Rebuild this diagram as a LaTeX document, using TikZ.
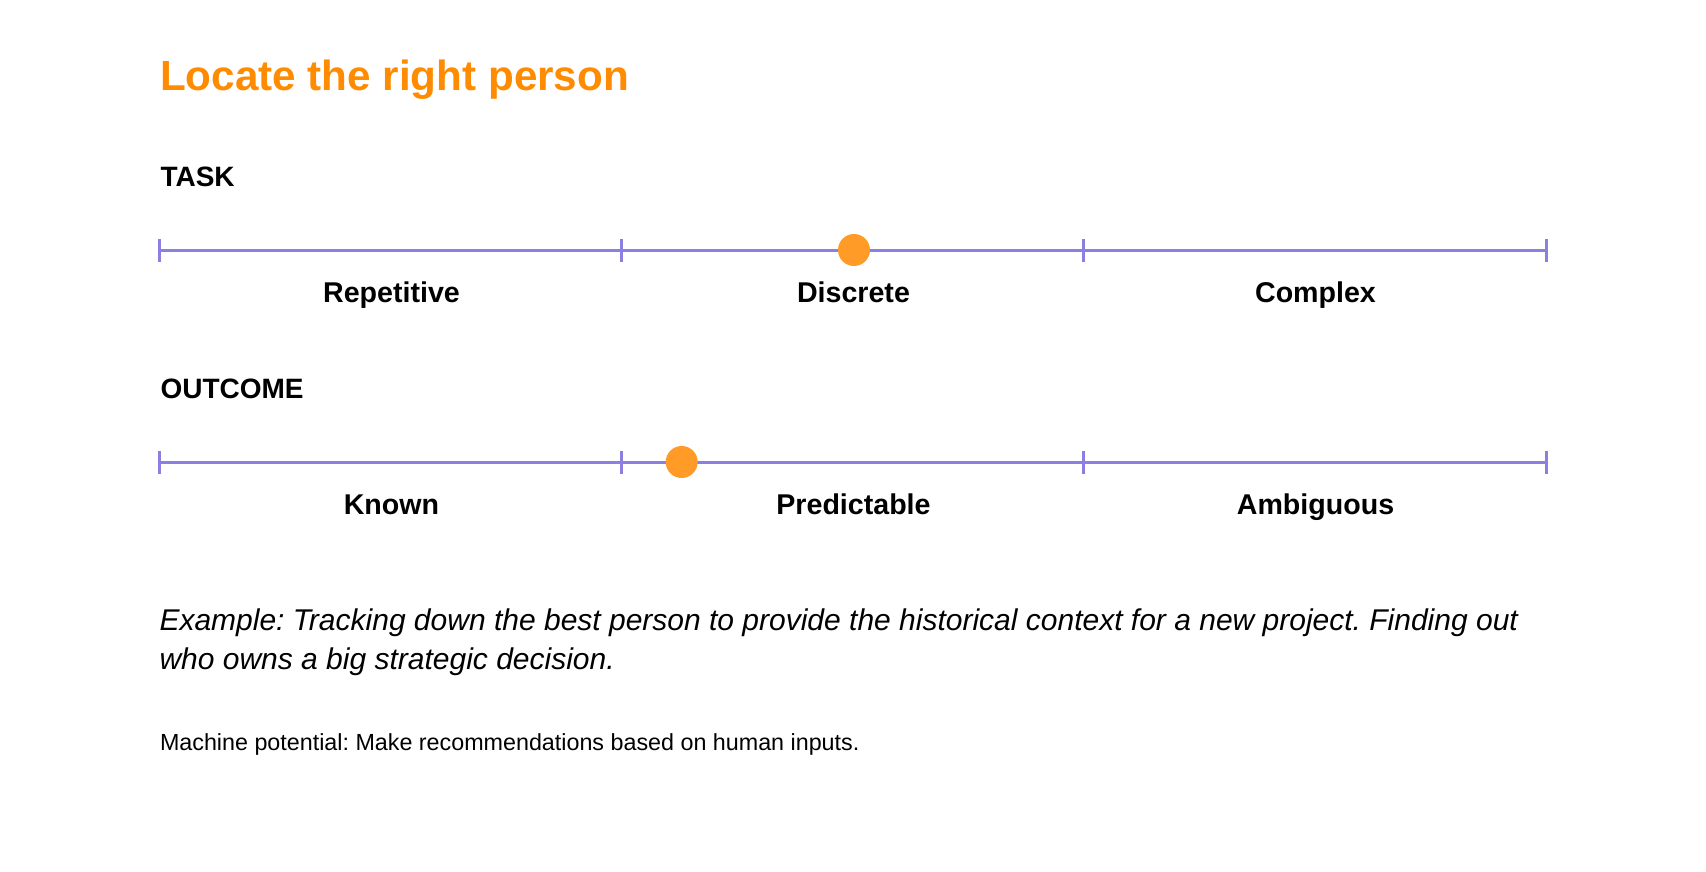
\documentclass[tikz,border=0pt]{standalone}
\usepackage{fontspec}
\setmainfont{Liberation Sans}
\definecolor{titleorange}{RGB}{255,140,0}
\definecolor{dotorange}{RGB}{255,155,38}
\definecolor{scalepurple}{RGB}{139,127,224}
\begin{document}
\frenchspacing
\begin{tikzpicture}[x=1pt,y=-1pt,
  txt/.style={inner sep=0pt, outer sep=0pt},
  heading/.style={txt, anchor=base west, font=\fontsize{28}{33}\selectfont\bfseries},
  scalelabel/.style={txt, anchor=base, font=\fontsize{28.6}{34}\selectfont\bfseries},
  scaleline/.style={draw=scalepurple, line width=3pt},
  tickmark/.style={draw=scalepurple, line width=3pt},
  marker/.style={circle, fill=dotorange, minimum size=32pt, inner sep=0pt, outer sep=0pt}]
\useasboundingbox (0,0) rectangle (1706,872);
\fill[white] (0,0) rectangle (1706,872);

\node[txt, anchor=base west, text=titleorange, font=\fontsize{42.2}{50}\selectfont\bfseries] (title) at (160,90.7) {Locate the right person};

% TASK scale
\node[heading] (task) at (160.5,186) {TASK};
\coordinate (a0) at (159.5,250);
\coordinate (a1) at (621.7,250);
\coordinate (a2) at (1083.5,250);
\coordinate (a3) at (1546,250);
\draw[scaleline] (a0) -- (a3);
\foreach \c in {a0,a1,a2,a3} \draw[tickmark] ([yshift=-11.5pt]\c) -- ([yshift=11.5pt]\c);
\node[scalelabel] (rep) at (391.5,302) {Repetitive};
\node[scalelabel] (dis) at (853.5,302) {Discrete};
\node[scalelabel] (com) at (1315.5,302) {Complex};
\node[marker] (dot1) at (854,250) {};

% OUTCOME scale
\node[heading] (outcome) at (160.5,398) {OUTCOME};
\coordinate (b0) at (159.5,462);
\coordinate (b1) at (621.7,462);
\coordinate (b2) at (1083.5,462);
\coordinate (b3) at (1546,462);
\draw[scaleline] (b0) -- (b3);
\foreach \c in {b0,b1,b2,b3} \draw[tickmark] ([yshift=-11.5pt]\c) -- ([yshift=11.5pt]\c);
\node[scalelabel] (kno) at (391.5,514) {Known};
\node[scalelabel] (pre) at (853.5,514) {Predictable};
\node[scalelabel] (amb) at (1315.5,514) {Ambiguous};
\node[marker] (dot2) at (681.7,462) {};

% texts
\node[txt, anchor=base west, font=\fontsize{30}{38}\selectfont\itshape] (ex1) at (159.5,630) {Example: Tracking down the best person to provide the historical context for a new project. Finding out};
\node[txt, anchor=base west, font=\fontsize{30}{38}\selectfont\itshape] (ex2) at (159.5,669) {who owns a big strategic decision.};
\node[txt, anchor=base west, font=\fontsize{23.3}{28}\selectfont] (mach) at (160,750) {Machine potential: Make recommendations based on human inputs.};
\end{tikzpicture}
\end{document}
